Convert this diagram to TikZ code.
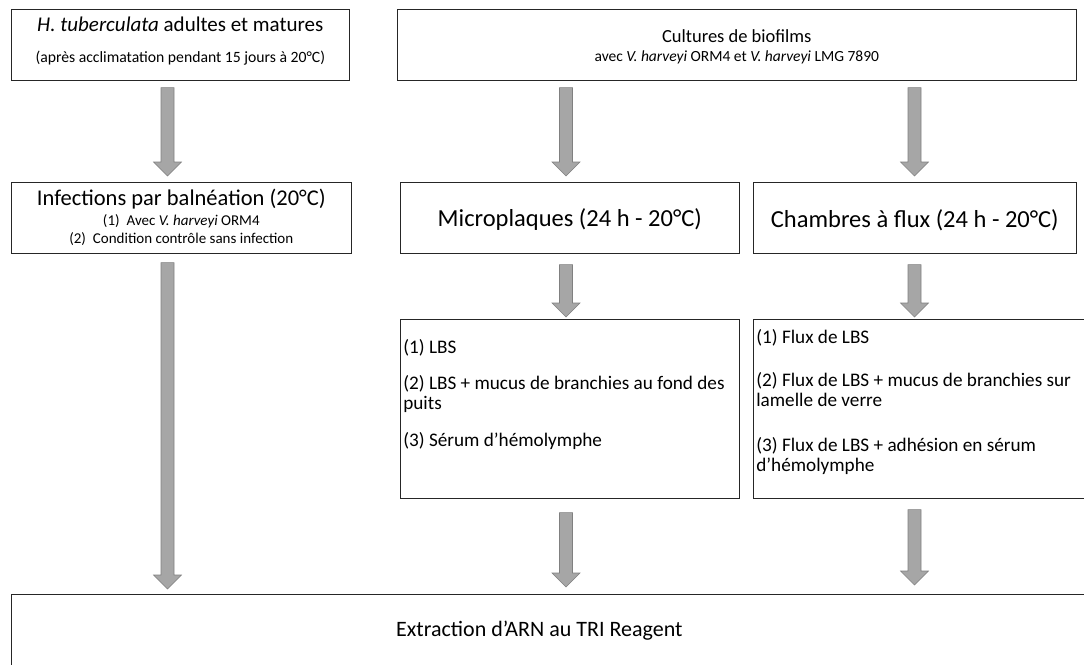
\documentclass[tikz,border=0pt]{standalone}
\usepackage{fontspec}
\setmainfont{Carlito}
\usetikzlibrary{calc}
\usetikzlibrary{positioning}

\begin{document}
\begin{tikzpicture}[x=1pt,y=-1pt]
\tikzstyle{box}=[rectangle,draw=black!85,line width=0.6pt,fill=white,anchor=north west,inner sep=0pt]
\tikzstyle{liste}=[box,inner xsep=3pt,font=\fontsize{19.2}{20}\selectfont]
\tikzstyle{grosse}=[draw=black!50,fill=black!35,line width=0.6pt,
  to path={let \p1=(\tikztostart), \p2=(\tikztotarget) in
    (\x1-6.5pt,\y1) -- (\x1-6.5pt,\y2+14pt) -- (\x1-14pt,\y2+14pt) -- (\x1,\y2)
    -- (\x1+14pt,\y2+14pt) -- (\x1+6.5pt,\y2+14pt) -- (\x1+6.5pt,\y1) -- cycle}]
\useasboundingbox (0,0) rectangle (1084,664);
\clip (0,0) rectangle (1084,664);

% colonnes des fleches
\coordinate (c1) at (167.5,0);
\coordinate (c2) at (566,0);
\coordinate (c3) at (914.5,0);

% premiere ligne
\node[box,font=\fontsize{15.7}{19}\selectfont] (ht) at (11,9)
  {\parbox[c][71pt][t]{338pt}{\centering\vspace*{8pt}%
   {\fontsize{21}{25}\selectfont\textit{H. tuberculata} adultes et matures}\\[11.8pt]
   (après acclimatation pendant 15 jours à 20°C)}};
\node[box,font=\fontsize{15.5}{18.5}\selectfont] (cb) at (397,9)
  {\parbox[c][71pt][t]{679pt}{\centering\vspace*{20.4pt}%
   {\fontsize{18.5}{22}\selectfont Cultures de biofilms}\\
   avec \textit{V. harveyi} ORM4 et \textit{V. harveyi} LMG 7890}};

% deuxieme ligne
\node[box,font=\fontsize{15}{18}\selectfont] (inf) at (11,182)
  {\parbox[c][71pt][t]{340pt}{\centering\vspace*{6.6pt}%
   {\fontsize{22.5}{26}\selectfont Infections par balnéation (20°C)}\\[2pt]
   (1)\hspace{7pt}Avec \textit{V. harveyi} ORM4\\
   (2)\hspace{7pt}Condition contrôle sans infection}};
\node[box,font=\fontsize{24.5}{28}\selectfont] (mp) at (400,182)
  {\parbox[c][71pt][c]{339pt}{\centering\vspace*{4pt}Microplaques (24 h - 20°C)}};
\node[box,font=\fontsize{24.5}{28}\selectfont] (cf) at (753,182)
  {\parbox[c][71pt][c]{323pt}{\centering\vspace*{4pt}Chambres à flux (24 h - 20°C)}};

% conditions
\node[liste] (lbs) at (400,319)
  {\parbox[c][179pt][t]{333pt}{\vspace*{19.8pt}(1) LBS\\[16pt]
   (2) LBS + mucus de branchies au fond des\\ puits\\[17pt]
   (3) Sérum d’hémolymphe}};
\node[liste] (flx) at (753,319)
  {\parbox[c][179pt][t]{339pt}{\vspace*{9.8pt}(1) Flux de LBS\\[23pt]
   (2) Flux de LBS + mucus de branchies sur\\ lamelle de verre\\[25pt]
   (3) Flux de LBS + adhésion en sérum\\ d’hémolymphe}};

% extraction
\node[box,font=\fontsize{22}{26}\selectfont] (ext) at (11,594)
  {\parbox[c][72pt][c]{1090pt}{\centering Extraction d’ARN au TRI Reagent\hspace*{34pt}}};

% fleches
\draw[grosse] ([yshift=-7pt]ht.south -| c1) to ([yshift=6pt]inf.north -| c1);
\draw[grosse] ([yshift=-7pt]cb.south -| c2) to ([yshift=6pt]mp.north -| c2);
\draw[grosse] ([yshift=-7pt]cb.south -| c3) to ([yshift=6pt]cf.north -| c3);
\draw[grosse] ([yshift=-11pt]mp.south -| c2) to ([yshift=2pt]lbs.north -| c2);
\draw[grosse] ([yshift=-11pt]cf.south -| c3) to ([yshift=2pt]flx.north -| c3);
\draw[grosse] ([yshift=-9pt]inf.south -| c1) to ([yshift=5pt]ext.north -| c1);
\draw[grosse] ([yshift=-14pt]lbs.south -| c2) to ([yshift=7pt]ext.north -| c2);
\draw[grosse] ([yshift=-11pt]flx.south -| c3) to ([yshift=9pt]ext.north -| c3);
\end{tikzpicture}
\end{document}
